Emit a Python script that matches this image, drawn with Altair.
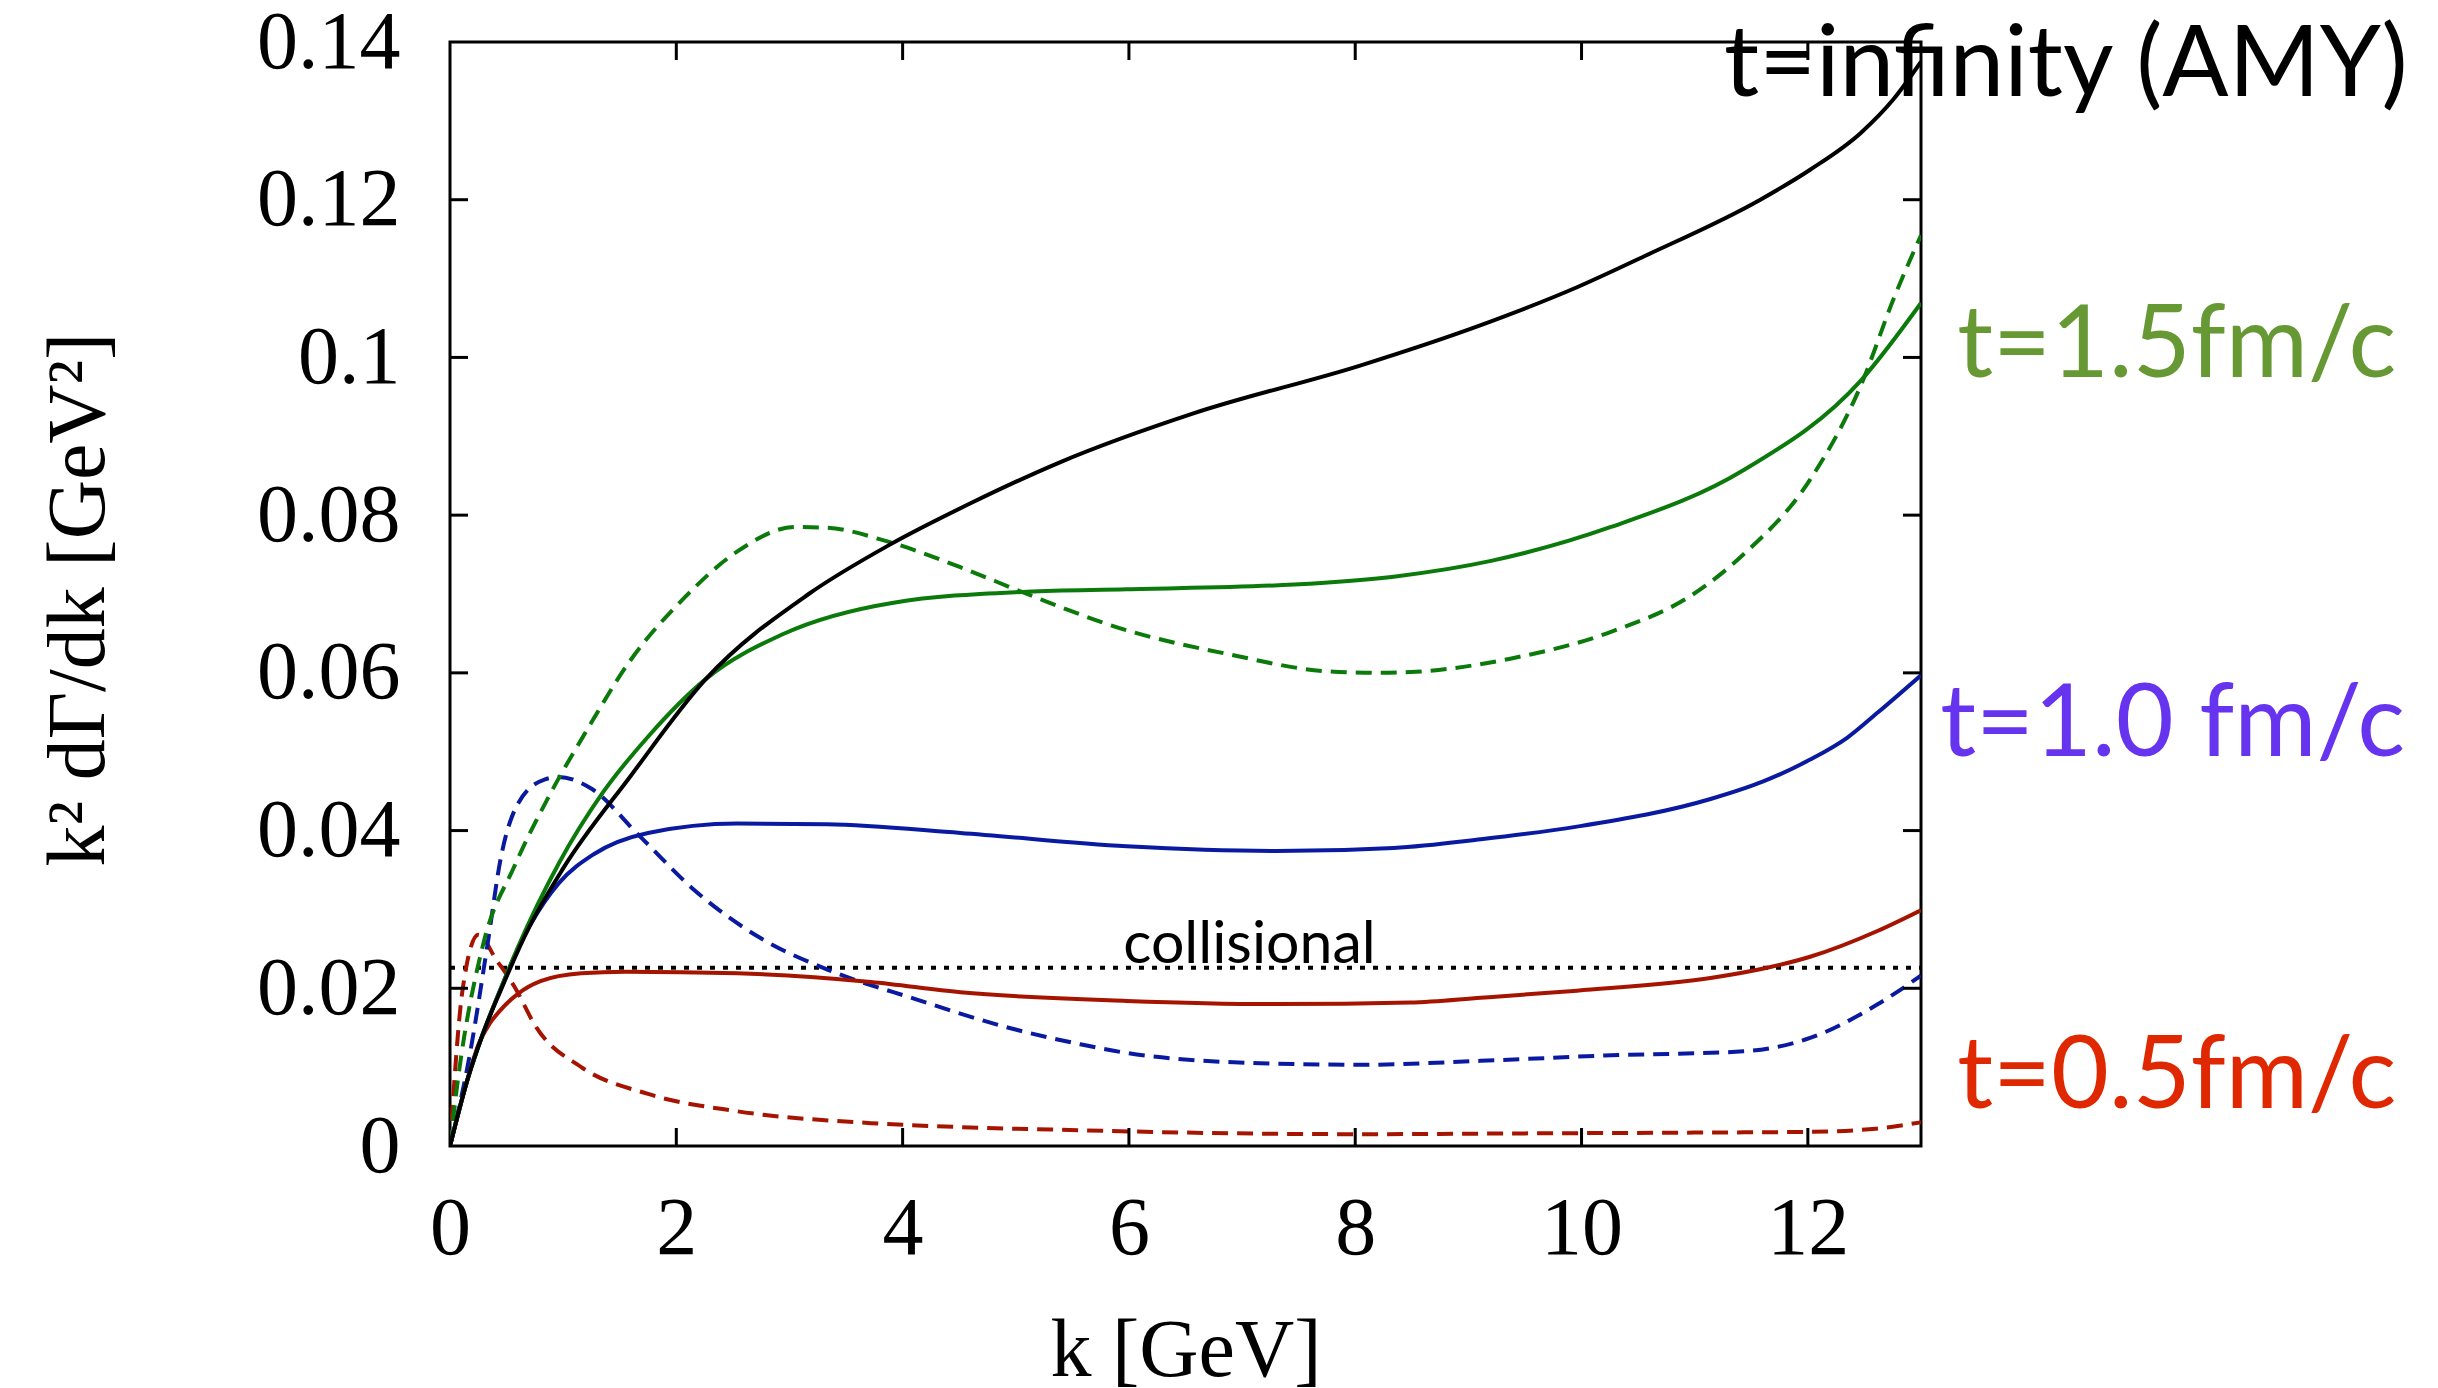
import altair as alt
import pandas as pd

# ---- data ----
black_k = [0, 0.15, 0.29, 0.45, 0.68, 1.0, 1.59, 2.26, 3.17, 3.88, 4.6, 5.39, 6.57, 8.05, 9.11, 9.96, 10.55, 11.58, 12.02, 12.47, 12.76, 13.0]
black_v = [0, 0.0082, 0.0142, 0.0198, 0.0272, 0.0352, 0.0468, 0.0592, 0.070, 0.0762, 0.0815, 0.0867, 0.0929, 0.099, 0.1041, 0.1089, 0.1128, 0.1200, 0.1238, 0.1285, 0.1328, 0.1375]

green_k = [0, 0.15, 0.29, 0.45, 0.6, 0.96, 1.35, 1.75, 2.26, 2.94, 3.92, 5.1, 5.98, 7.46, 8.34, 9.2, 10.26, 11.43, 12.47, 13.0]
green_v = [0, 0.0082, 0.0142, 0.0200, 0.0252, 0.0358, 0.0448, 0.0519, 0.0592, 0.0649, 0.0689, 0.0703, 0.0706, 0.0712, 0.0722, 0.0742, 0.0785, 0.0857, 0.0971, 0.1069]

green_d_k = [0, 0.07, 0.29, 0.57, 0.88, 1.2, 1.59, 2.07, 2.54, 3.05, 3.33, 3.88, 4.51, 5.1, 5.98, 6.87, 7.75, 8.2, 8.49, 9.37, 10.26, 10.99, 11.43, 12.02, 12.47, 12.76, 13.0]
green_d_v = [0, 0.0084, 0.0254, 0.0355, 0.0445, 0.0525, 0.0615, 0.0695, 0.0754, 0.0785, 0.0784, 0.0766, 0.0734, 0.070, 0.0654, 0.0624, 0.0602, 0.060, 0.0601, 0.0618, 0.0652, 0.0700, 0.0750, 0.0845, 0.0965, 0.1075, 0.1155]

blue_k = [0, 0.15, 0.29, 0.45, 0.6, 0.72, 0.96, 1.27, 1.75, 2.54, 3.33, 4.51, 5.98, 7.31, 8.34, 9.11, 9.96, 11.14, 11.6, 12.02, 12.35, 12.62, 13.0]
blue_v = [0, 0.0082, 0.0142, 0.0200, 0.0250, 0.0283, 0.0333, 0.0370, 0.0397, 0.0409, 0.0408, 0.0397, 0.038, 0.0374, 0.0378, 0.0389, 0.0405, 0.044, 0.0462, 0.0490, 0.0518, 0.0550, 0.0597]

blue_d_k = [0, 0.17, 0.33, 0.45, 0.6, 0.84, 0.96, 1.24, 1.67, 2.14, 2.74, 3.33, 4.12, 4.91, 5.57, 5.98, 7.16, 8.05, 9.11, 10.26, 11.43, 12.02, 12.62, 13.0]
blue_d_v = [0, 0.0112, 0.0254, 0.0366, 0.0434, 0.0465, 0.0468, 0.0454, 0.0394, 0.0327, 0.0264, 0.0224, 0.0186, 0.0151, 0.0129, 0.0118, 0.0105, 0.0103, 0.0108, 0.0115, 0.012, 0.0137, 0.018, 0.0216]

red_k = [0, 0.15, 0.25, 0.35, 0.45, 0.6, 0.8, 1.16, 1.55, 2.54, 3.72, 4.51, 5.98, 7.31, 8.49, 9.11, 9.96, 11.14, 11.64, 12.02, 12.62, 13.0]
red_v = [0, 0.0082, 0.0128, 0.0155, 0.0173, 0.0193, 0.0209, 0.0219, 0.0221, 0.0219, 0.0208, 0.0195, 0.0184, 0.018, 0.0182, 0.0188, 0.0197, 0.0213, 0.0226, 0.024, 0.0273, 0.0299]

red_d_k = [0, 0.11, 0.25, 0.41, 0.57, 0.76, 1.16, 1.75, 2.54, 3.72, 4.51, 5.57, 6.5, 8.05, 9.5, 11.0, 12.02, 12.6, 13.0]
red_d_v = [0, 0.0197, 0.0268, 0.0236, 0.0202, 0.0151, 0.0100, 0.0066, 0.0044, 0.0029, 0.0024, 0.002, 0.0017, 0.0015, 0.0016, 0.0017, 0.0018, 0.0022, 0.0030]

coll_k = [0, 13]
coll_v = [0.0226, 0.0226]

x_ticks = [0, 2, 4, 6, 8, 10, 12]
y_ticks = [0, 0.02, 0.04, 0.06, 0.08, 0.1, 0.12, 0.14]
x_inner = [2, 4, 6, 8, 10, 12]
y_inner = [0.02, 0.04, 0.06, 0.08, 0.1, 0.12]

labels = ["t=infinity (AMY)", "t=1.5fm/c", "t=1.0 fm/c", "t=0.5fm/c", "collisional"]
label_k = [11.26, 13.32, 13.17, 13.32, 5.95]
label_v = [0.1331, 0.0975, 0.0494, 0.0048, 0.0232]

W, H = 1471, 1104
FONT_SERIF = "Liberation Serif"
FONT_SANS = "Lato"

xscale = alt.Scale(domain=[0, 13], nice=False, zero=False)
yscale = alt.Scale(domain=[0, 0.14], nice=False, zero=False)

xaxis = alt.Axis(values=x_ticks, format="d", title="k [GeV]", domain=False, ticks=False, tickSize=0,
                 grid=False, labelFont=FONT_SERIF, labelFontSize=82, labelColor="black",
                 labelPadding=42, titleFont=FONT_SERIF, titleFontSize=82, titleFontWeight="normal",
                 titleColor="black", titleBaseline="alphabetic", titleY=229, titleX=W / 2,
                 labelFlush=False, labelOverlap=False)
yaxis = alt.Axis(values=y_ticks, format="~g", title="k² dΓ/dk [GeV²]", domain=False, ticks=False,
                 tickSize=0, grid=False, labelFont=FONT_SERIF, labelFontSize=82, labelColor="black",
                 labelPadding=50, titleFont=FONT_SERIF, titleFontSize=82, titleFontWeight="normal",
                 titleColor="black", titleBaseline="alphabetic", titleAngle=-90, titleX=-347,
                 titleY=H / 2 + 5, labelFlush=False, labelOverlap=False)


def X(field="k"):
    return alt.X(f"{field}:Q", scale=xscale, axis=xaxis)


def Y(field="v"):
    return alt.Y(f"{field}:Q", scale=yscale, axis=yaxis)


def line(ks, vs, color, dash=None, width=4):
    df = pd.DataFrame({"k": ks, "v": vs})
    kw = dict(color=color, strokeWidth=width, interpolate="monotone", clip=True)
    if dash is not None:
        kw["strokeDash"] = dash
    return alt.Chart(df).mark_line(**kw).encode(x=X(), y=Y(), order="k:Q")


GREEN = "#0b7a0b"
BLUE = "#0a1aa0"
RED = "#a51400"
DASH = [16, 9]

layers = [
    line(coll_k, coll_v, "black", dash=[5, 8], width=4),
    line(red_d_k, red_d_v, RED, dash=DASH),
    line(blue_d_k, blue_d_v, BLUE, dash=DASH),
    line(green_d_k, green_d_v, GREEN, dash=DASH),
    line(red_k, red_v, RED),
    line(blue_k, blue_v, BLUE),
    line(green_k, green_v, GREEN),
    line(black_k, black_v, "black"),
]

# inward ticks on all four sides
xt = pd.DataFrame({"k": x_inner})
yt = pd.DataFrame({"v": y_inner})
TL = 18
layers += [
    alt.Chart(xt).mark_rule(color="black", strokeWidth=3).encode(x=X(), y=alt.value(H), y2=alt.value(H - TL)),
    alt.Chart(xt).mark_rule(color="black", strokeWidth=3).encode(x=X(), y=alt.value(0), y2=alt.value(TL)),
    alt.Chart(yt).mark_rule(color="black", strokeWidth=3).encode(y=Y(), x=alt.value(0), x2=alt.value(TL)),
    alt.Chart(yt).mark_rule(color="black", strokeWidth=3).encode(y=Y(), x=alt.value(W), x2=alt.value(W - TL)),
]

# annotations
ann = pd.DataFrame({"k": label_k, "v": label_v, "text": labels})
ann_colors = ["black", "#669933", "#6633ee", "#e02800", "black"]
ann_sizes = [98, 100, 100, 100, 59]
for i in range(len(labels)):
    layers.append(
        alt.Chart(ann.iloc[[i]]).mark_text(align="left", baseline="alphabetic", font=FONT_SANS,
                                           fontSize=ann_sizes[i], color=ann_colors[i])
        .encode(x=X(), y=Y(), text="text:N")
    )

chart = alt.layer(*layers).properties(
    width=W, height=H,
    padding={"left": 450, "top": 42, "right": 2438 - 450 - W, "bottom": 1388 - 42 - H},
    autosize=alt.AutoSizeParams(type="none"),
    background="white",
).configure_view(stroke="black", strokeWidth=3)

chart.save("out.html", embed_options={"renderer": "svg", "actions": False})
